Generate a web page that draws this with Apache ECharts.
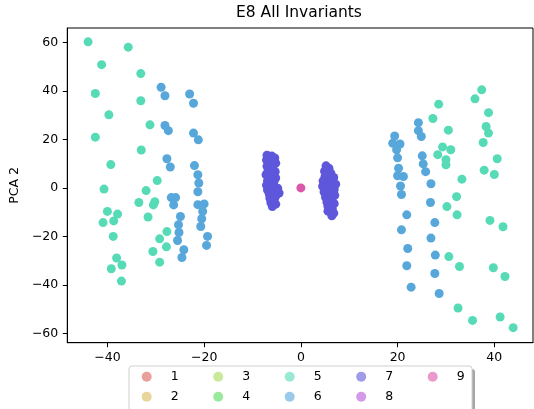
<!DOCTYPE html>
<html><head><meta charset="utf-8">
<script src="https://cdn.jsdelivr.net/npm/echarts@6/dist/echarts.min.js"></script>
<style>html,body{margin:0;padding:0;background:#fff}#c{width:534px;height:409px}</style>
</head><body><div id="c"></div>
<script>
const classNames = ['1','2','3','4','5','6','7','8','9'];
const classColors = ['#db5f57','#dbb757','#a7db57','#57db5f','#57dbb7','#57a7db','#5f57db','#b757db','#db57a7'];
const xTicks = [-40,-20,0,20,40];
const yTicks = [-60,-40,-20,0,20,40,60];

const class1 = [];
const class2 = [];
const class3 = [];
const class4 = [];
const class5 = [
  [-44.0,60.3],[-35.7,58.1],[-41.2,50.9],[-33.1,47.2],[-42.5,39.0],[-33.1,36.0],[-39.7,30.2],[-31.2,26.1],
  [-42.5,21.0],[-33.0,15.7],[-39.3,9.7],[-29.7,3.1],[-40.7,-0.4],[-32.0,-1.0],[-33.5,-5.9],[-30.2,-5.6],
  [-30.5,-6.9],[-40.0,-9.6],[-37.9,-10.7],[-40.9,-14.2],[-38.7,-13.5],[-31.6,-11.9],[-38.8,-19.9],[-27.7,-17.9],
  [-29.2,-20.9],[-27.8,-24.2],[-30.6,-26.1],[-29.2,-30.5],[-38.1,-28.8],[-37.0,-31.7],[-39.2,-33.2],[-37.1,-38.3],
  [37.4,40.5],[36.0,36.8],[28.5,34.6],[38.8,31.1],[27.3,28.7],[38.3,25.4],[38.8,22.7],[30.5,23.9],
  [37.7,18.8],[29.3,17.0],[31.0,15.8],[28.3,13.8],[30.0,11.7],[30.0,9.6],[40.6,12.1],[37.9,7.4],
  [40.0,5.6],[33.3,3.7],[32.2,-3.5],[30.2,-7.6],[32.3,-11.0],[39.1,-13.3],[41.8,-15.9],[30.6,-28.2],
  [32.8,-32.3],[39.8,-32.8],[42.2,-36.4],[32.5,-49.4],[35.5,-54.5],[41.2,-53.1],[43.9,-57.5]
];
const class6 = [
  [-28.9,41.6],[-28.1,38.1],[-28.1,25.8],[-27.4,23.7],[-27.7,12.1],[-27.0,8.7],[-26.8,-3.9],[-25.9,-3.9],
  [-26.3,-6.9],[-24.9,-11.7],[-25.3,-15.1],[-25.2,-18.3],[-25.5,-21.6],[-24.2,-25.4],[-24.6,-28.6],
  [-23.0,38.8],[-22.2,35.0],[-22.2,22.7],[-21.2,19.9],[-22.0,9.3],[-21.3,5.5],[-21.1,2.1],[-21.3,-1.5],
  [-21.3,-6.8],[-20.0,-6.5],[-20.3,-9.6],[-20.5,-12.6],[-20.7,-15.8],[-19.3,-19.9],[-19.5,-23.6],
  [19.4,21.5],[19.0,18.5],[20.5,18.2],[19.8,15.8],[20.0,12.5],[20.2,8.2],[20.0,5.1],[21.2,4.8],
  [20.6,0.9],[20.8,-2.6],[21.9,-11.0],[20.8,-17.2],[22.1,-24.9],[21.9,-32.0],[22.8,-40.8],
  [24.3,27.0],[24.3,23.7],[24.9,21.3],[25.1,13.3],[25.3,10.0],[25.8,6.8],[26.9,1.8],[26.8,-5.9],
  [27.7,-14.2],[26.9,-20.6],[27.8,-27.6],[27.7,-35.2],[28.6,-43.4]
];
const class7 = [
  [-7.0,13.6],[-6.0,13.2],[-5.4,12.4],[-7.1,11.6],[-6.1,11.0],[-5.2,10.3],[-7.0,9.0],[-5.8,8.5],
  [-6.8,7.1],[-5.3,6.8],[-7.2,5.5],[-6.2,4.8],[-5.2,4.2],[-6.9,3.0],[-5.6,2.4],[-7.1,1.2],
  [-6.0,0.6],[-4.8,0.0],[-6.9,-0.8],[-5.6,-1.5],[-4.5,-2.0],[-6.5,-2.6],[-5.2,-3.3],[-6.4,-4.2],
  [-5.5,-4.8],[-6.2,-6.0],[-5.2,-6.6],[-5.9,-7.6],
  [5.2,9.2],[5.8,8.2],[4.9,7.0],[6.2,6.2],[5.0,4.8],[6.8,4.4],[4.6,3.0],[5.9,2.5],
  [7.2,1.6],[4.5,0.8],[5.6,0.2],[6.9,-0.6],[4.8,-1.6],[6.0,-2.4],[7.0,-3.0],[5.1,-3.8],
  [6.4,-4.6],[5.4,-5.8],[6.9,-6.4],[5.6,-7.5],[6.5,-8.6],[5.6,-9.5],[6.8,-10.3],[6.4,-11.4]
];
const class8 = [];
const class9 = [[0.0,0.1]];
const classData = [class1,class2,class3,class4,class5,class6,class7,class8,class9];

const FONT = 'DejaVu Sans';
const fmt = v => String(v).replace('-', '\u2212');

const series = classNames.map((n,i) => ({
  name: n, type: 'scatter', data: classData[i], symbol: 'circle', symbolSize: 9,
  itemStyle: { color: classColors[i], opacity: 1 }, emphasis: { disabled: true }, z: 2 + i
}));

const legends = classNames.map((n,i) => {
  const col = Math.floor(i / 2), row = i % 2;
  return {
    data: [n], left: 141.7 + col * 71.5, top: 369.7 + row * 20, padding: 0,
    icon: 'circle', itemWidth: 10, itemHeight: 10, selectedMode: false,
    itemStyle: { opacity: 0.6 },
    textStyle: { fontFamily: FONT, fontSize: 12.5, color: '#000', lineHeight: 14, padding: [0,0,0,14] }
  };
});

const chart = echarts.init(document.getElementById('c'), null, { renderer: 'canvas' });
chart.setOption({
  animation: false,
  backgroundColor: '#fff',
  title: { text: 'E8 All Invariants', left: 236, top: 5, padding: 0,
    textStyle: { fontFamily: FONT, fontSize: 15.5, fontWeight: 'normal', color: '#000' } },
  graphic: [
    { type: 'rect', shape: { x: 132, y: 369, width: 343, height: 60, r: 3 }, style: { fill: 'rgba(0,0,0,0.35)' }, z: 1 },
    { type: 'rect', shape: { x: 129, y: 366, width: 343, height: 60, r: 3 }, style: { fill: '#fff', stroke: '#d0d0d0', lineWidth: 1 }, z: 2 }
  ],
  legend: legends,
  grid: { left: 65, top: 28, right: 1, bottom: 66.3, show: true, borderColor: '#000', borderWidth: 1, backgroundColor: 'transparent' },
  xAxis: {
    type: 'value', min: -48.3, max: 48.0,
    axisLine: { show: true, onZero: false, lineStyle: { color: '#000', width: 1 } },
    axisTick: { show: true, length: 4.5, customValues: xTicks, lineStyle: { color: '#000' } },
    axisLabel: { customValues: xTicks, formatter: fmt, margin: 9, fontFamily: FONT, fontSize: 12.5, color: '#000' },
    splitLine: { show: false }
  },
  yAxis: {
    type: 'value', min: -63.7, max: 66.0,
    name: 'PCA 2', nameLocation: 'middle', nameGap: 44,
    nameTextStyle: { fontFamily: FONT, fontSize: 12.5, color: '#000' },
    axisLine: { show: true, onZero: false, lineStyle: { color: '#000', width: 1 } },
    axisTick: { show: true, length: 4.5, customValues: yTicks, lineStyle: { color: '#000' } },
    axisLabel: { customValues: yTicks, formatter: fmt, margin: 9, fontFamily: FONT, fontSize: 12.5, color: '#000' },
    splitLine: { show: false }
  },
  series: series
});
</script></body></html>
